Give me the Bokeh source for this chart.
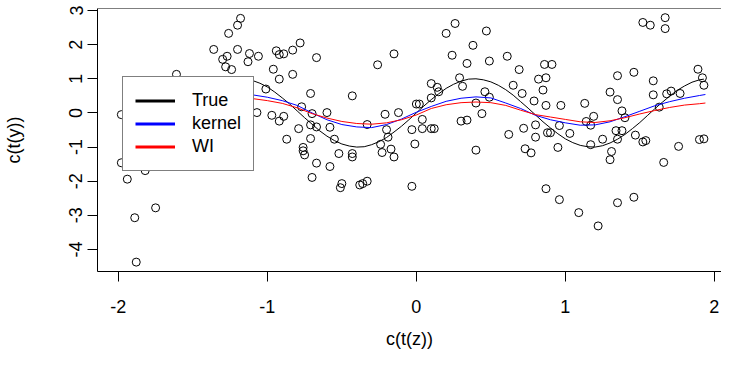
from bokeh.plotting import figure
from bokeh.models import Legend, LegendItem, FixedTicker, Span, Range1d
from bokeh.embed import file_html
from bokeh.resources import INLINE

# observed points (z, y)
z_obs = [-1.18, -1.20, -1.26, -1.36, -1.20, -1.27, -1.30, -1.12, -1.13, -1.28, -1.24, -1.61, -1.98, -1.13,
         -1.98, -1.82, -1.94, -1.75, -1.89, -1.88, -1.12,
         -1.06, -0.94, -0.92, -0.89, -0.83, -0.78, -0.67, -0.96, -0.83, -0.92, -1.01, -0.71, -0.43, -0.26, -0.15,
         -1.07, -0.97, -0.89, -0.92, -0.77, -0.70, -0.60, -0.21, -0.12, -0.33, -0.71, -0.67, -0.79, -0.58, -0.20,
         -0.87, -0.71, -0.55, -0.19, -0.24, -0.23, -0.17, -0.15, -0.76, -0.76, -0.75, -0.67, -0.58, -0.70, -0.52,
         -0.43, -0.43, -0.50, -0.51, -0.38, -0.36, -0.33, -0.03, -0.03, -0.01,
         0.26, 0.20, 0.47, 0.38, 0.24, 0.34, 0.49, 0.61, 0.69, 0.86, 0.91, 0.82, 0.87, 0.85, 0.29, 0.31, 0.10,
         0.14, 0.15, 0.10, 0.00, 0.02, 0.46, 0.49, 0.40, 0.65, 0.71, 0.79, 0.87, 0.97, 0.44, 0.30, 0.34, 0.04,
         0.04, 0.10, 0.12, 0.62, 0.72, 0.80, 0.88, 0.90, 0.80, 0.96, 0.40, 0.73, 0.77, 0.95, 0.87, 0.96,
         1.13, 1.14, 1.17, 1.19, 1.03, 1.17, 1.09, 1.22, 1.35, 1.46, 1.25, 1.31, 1.30, 1.34, 1.35, 1.38, 1.30,
         1.35, 1.38, 1.40, 1.35, 1.46, 1.47, 1.52, 1.54, 1.59, 1.59, 1.63, 1.66, 1.68, 1.71, 1.77, 1.76, 1.52,
         1.57, 1.67, 1.67, 1.89, 1.92, 1.93, 1.90, 1.93]
y_obs = [2.77, 2.57, 2.33, 1.86, 1.86, 1.66, 1.57, 1.74, 1.50, 1.35, 1.27, 1.13, -0.05, -0.06,
         -1.46, -1.69, -1.94, -2.78, -3.07, -4.37, -1.41,
         1.66, 1.82, 1.71, 1.73, 1.84, 2.05, 1.62, 1.28, 1.13, 0.99, 0.70, 0.57, 0.50, 1.41, 1.73,
         0.01, -0.07, -0.10, -0.24, 0.18, -0.02, 0.01, -0.04, 0.01, -0.34, -0.35, -0.41, -0.46, -0.42, -0.49,
         -0.77, -0.75, -0.77, -0.71, -0.92, -1.16, -1.06, -1.29, -1.01, -1.11, -1.23, -1.47, -1.57, -1.89, -1.19,
         -1.19, -1.29, -2.07, -2.19, -2.11, -2.07, -2.00, -0.49, -2.15, -0.91,
         2.62, 2.33, 2.40, 1.98, 1.69, 1.45, 1.52, 1.66, 1.27, 1.42, 1.42, 0.99, 1.03, 0.67, 1.03, 0.78, 0.86,
         0.75, 0.62, 0.44, 0.26, 0.26, 0.62, 0.46, 0.29, 0.81, 0.57, 0.35, 0.22, 0.22, -0.02, -0.24, -0.21, -0.19,
         -0.46, -0.46, -0.46, -0.63, -0.45, -0.35, -0.58, -0.58, -0.71, -0.37, -1.09, -1.05, -1.17, -1.01, -2.22, -2.54,
         0.28, -0.25, -0.36, -0.10, -0.60, -0.93, -2.92, -3.31, -2.63, -2.47, -0.77, -1.13, -1.37, -0.52, -0.77, -0.52, 0.61,
         0.39, 0.06, -0.14, 1.09, 1.19, -0.65, -0.85, -0.81, 0.94, 0.53, 0.17, -1.45, 0.56, 0.64, 0.57, -0.98, 2.65,
         2.57, 2.79, 2.47, 1.28, 1.03, 0.81, -0.78, -0.76]

# true curve
z_true = [-1.95, -1.90, -1.85, -1.80, -1.75, -1.70, -1.65, -1.60, -1.55, -1.50, -1.45, -1.40, -1.35, -1.30,
          -1.25, -1.20, -1.15, -1.10, -1.05, -1.00, -0.95, -0.90, -0.85, -0.80, -0.75, -0.70, -0.65, -0.60,
          -0.55, -0.50, -0.45, -0.40, -0.35, -0.30, -0.25, -0.20, -0.15, -0.10, -0.05, 0.00, 0.05, 0.10,
          0.15, 0.20, 0.25, 0.30, 0.35, 0.40, 0.45, 0.50, 0.55, 0.60, 0.65, 0.70, 0.75, 0.80, 0.85, 0.90,
          0.95, 1.00, 1.05, 1.10, 1.15, 1.20, 1.25, 1.30, 1.35, 1.40, 1.45, 1.50, 1.55, 1.60, 1.65, 1.70,
          1.75, 1.80, 1.85, 1.90, 1.93]
y_true = [-1.00, -0.97, -0.90, -0.79, -0.66, -0.49, -0.31, -0.12, 0.08, 0.28, 0.46, 0.63, 0.77, 0.88,
          0.96, 1.00, 0.99, 0.95, 0.87, 0.76, 0.61, 0.44, 0.26, 0.06, -0.14, -0.33, -0.52, -0.68,
          -0.81, -0.91, -0.97, -1.00, -0.99, -0.93, -0.84, -0.72, -0.56, -0.39, -0.20, 0.00, 0.20, 0.39,
          0.56, 0.72, 0.84, 0.93, 0.99, 1.00, 0.97, 0.91, 0.81, 0.68, 0.52, 0.33, 0.14, -0.06, -0.26, -0.44,
          -0.61, -0.76, -0.87, -0.95, -0.99, -1.00, -0.96, -0.88, -0.77, -0.63, -0.46, -0.28, -0.08, 0.12,
          0.31, 0.49, 0.66, 0.79, 0.90, 0.97, 0.99]

# fitted curves
z_fit = [-1.2, -1.1, -1.0, -0.9, -0.8, -0.7, -0.6, -0.5, -0.4, -0.3, -0.2, -0.1, 0.0, 0.1, 0.2, 0.3, 0.4,
         0.5, 0.6, 0.7, 0.8, 0.9, 1.0, 1.1, 1.2, 1.3, 1.4, 1.5, 1.6, 1.7, 1.8, 1.9, 1.94]
y_kernel = [0.55, 0.53, 0.46, 0.36, 0.22, 0.00, -0.20, -0.34, -0.41, -0.43, -0.34, -0.18, 0.02, 0.19, 0.34,
            0.43, 0.47, 0.44, 0.29, 0.13, -0.07, -0.20, -0.29, -0.36, -0.35, -0.26, -0.11, 0.05, 0.21, 0.33,
            0.43, 0.51, 0.54]
y_wi = [0.48, 0.42, 0.36, 0.28, 0.15, -0.02, -0.15, -0.25, -0.31, -0.33, -0.29, -0.20, -0.06, 0.13, 0.24,
        0.30, 0.32, 0.30, 0.22, 0.08, -0.05, -0.12, -0.19, -0.26, -0.28, -0.23, -0.14, -0.03, 0.07, 0.16,
        0.23, 0.27, 0.29]

x_ticks = [-2, -1, 0, 1, 2]
y_ticks = [-4, -3, -2, -1, 0, 1, 2, 3]
legend_labels = ["True", "kernel", "WI"]

FONT = "Liberation Sans"
X0, X1 = -2.14, 2.048
Y0, Y1 = -4.645, 3.059

p = figure(width=721, height=352, output_backend="svg", toolbar_location=None,
           x_range=Range1d(X0, X1), y_range=Range1d(Y0, Y1),
           min_border_left=97, min_border_right=0, min_border_top=8, min_border_bottom=81,
           x_axis_label="c(t(z))", y_axis_label="c(t(y))")
p.outline_line_color = None
p.grid.visible = False
p.background_fill_color = "white"
p.border_fill_color = "white"

p.xaxis.ticker = FixedTicker(ticks=x_ticks)
p.yaxis.ticker = FixedTicker(ticks=y_ticks)
p.xaxis.major_label_overrides = {t: str(t) for t in x_ticks}
p.yaxis.major_label_overrides = {t: str(t) for t in y_ticks}
for ax in (p.xaxis, p.yaxis):
    ax.major_tick_out = 10
    ax.major_tick_in = 0
    ax.minor_tick_line_color = None
    ax.axis_line_color = "black"
    ax.major_tick_line_color = "black"
    ax.major_label_text_font = FONT
    ax.major_label_text_font_size = "18px"
    ax.major_label_text_color = "black"
    ax.axis_label_text_font = FONT
    ax.axis_label_text_font_size = "18px"
    ax.axis_label_text_font_style = "normal"
    ax.axis_label_text_color = "black"
p.xaxis.major_label_standoff = 18
p.xaxis.axis_label_standoff = 13
p.yaxis.major_label_orientation = "vertical"
p.yaxis.major_label_standoff = 5
p.yaxis.axis_label_standoff = 43

p.add_layout(Span(location=Y1, dimension="width", line_color="black", line_width=1))

p.scatter(z_obs, y_obs, marker="circle", size=8, fill_color=None, line_color="black", line_width=1)
p.line(z_true, y_true, line_color="black", line_width=1)
p.line(z_fit, y_kernel, line_color="#0000ff", line_width=1)
p.line(z_fit, y_wi, line_color="#ff0000", line_width=1)

# legend-only renderers, placed outside the visible ranges
r_t = p.line([10, 11], [10, 10], line_color="black", line_width=3)
r_k = p.line([10, 11], [10, 10], line_color="#0000ff", line_width=3)
r_w = p.line([10, 11], [10, 10], line_color="#ff0000", line_width=3)

legend = Legend(items=[LegendItem(label=legend_labels[0], renderers=[r_t]),
                       LegendItem(label=legend_labels[1], renderers=[r_k]),
                       LegendItem(label=legend_labels[2], renderers=[r_w])],
                location=(25, 100))
legend.border_line_color = "black"
legend.border_line_width = 1
legend.background_fill_color = "white"
legend.background_fill_alpha = 1.0
legend.label_text_font = FONT
legend.label_text_font_size = "18px"
legend.label_text_color = "black"
legend.glyph_width = 40
legend.glyph_height = 23
legend.label_height = 23
legend.label_standoff = 17
legend.padding = 12
legend.spacing = 0
legend.margin = 0
p.add_layout(legend)

open("out.html", "w").write(file_html(p, INLINE))
